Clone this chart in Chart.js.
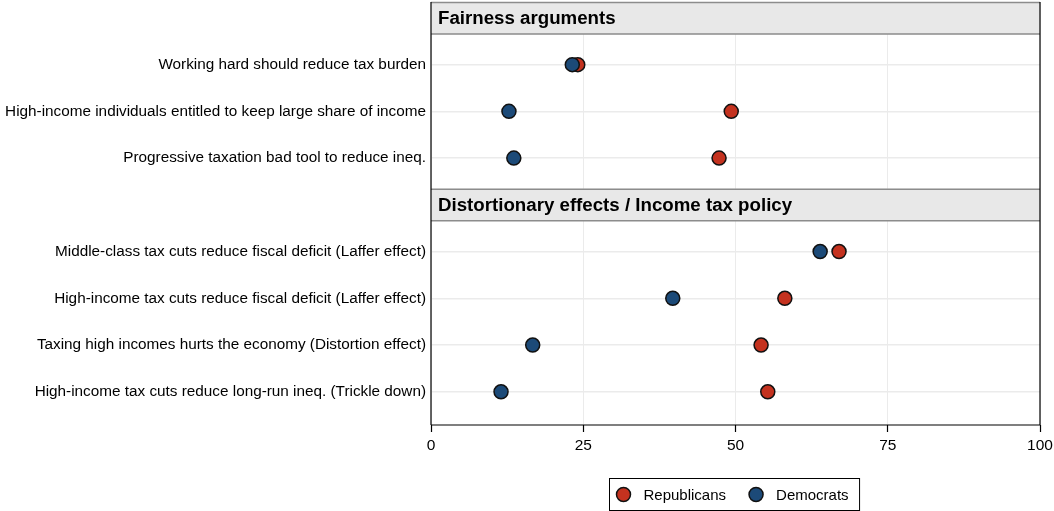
<!DOCTYPE html>
<html>
<head>
<meta charset="utf-8">
<script src="https://cdn.jsdelivr.net/npm/chart.js@4.4.0/dist/chart.umd.min.js"></script>
<style>
  html, body { margin: 0; padding: 0; background: #fff; }
  #wrap { width: 1054px; height: 511px; }
</style>
</head>
<body>
<div id="wrap"><canvas id="chart"></canvas></div>
<script>
// panel titles
const panelTitles = ['Fairness arguments', 'Distortionary effects / Income tax policy'];

// panel 1
const fairnessLabels = [
    'Working hard should reduce tax burden',
    'High-income individuals entitled to keep large share of income',
    'Progressive taxation bad tool to reduce ineq.'
];
const fairnessRep = [24.1, 49.3, 47.3];
const fairnessDem = [23.2, 12.8, 13.6];

// panel 2
const distortLabels = [
    'Middle-class tax cuts reduce fiscal deficit (Laffer effect)',
    'High-income tax cuts reduce fiscal deficit (Laffer effect)',
    'Taxing high incomes hurts the economy (Distortion effect)',
    'High-income tax cuts reduce long-run ineq. (Trickle down)'
];
const distortRep = [67.0, 58.1, 54.2, 55.3];
const distortDem = [63.9, 39.7, 16.7, 11.5];

const xTicks = [0, 25, 50, 75, 100];

const RED = '#c4321f';
const BLUE = '#1c4a78';
const FONT = '"Liberation Sans", Arial, sans-serif';

// rows: header slot, then the questions of each panel
const rowLabels = {};
const headerRows = [];
const repPoints = [];
const demPoints = [];
let row = 0;
[[fairnessLabels, fairnessRep, fairnessDem], [distortLabels, distortRep, distortDem]].forEach(([labels, rep, dem]) => {
    headerRows.push(row);
    row++;
    labels.forEach((l, i) => {
        rowLabels[row] = l;
        repPoints.push({ x: rep[i], y: row });
        demPoints.push({ x: dem[i], y: row });
        row++;
    });
});
const rowTicks = Object.keys(rowLabels).map(Number);

const panelPlugin = {
    id: 'panels',
    beforeDatasetsDraw(chart) {
        const { ctx, chartArea: a, scales: { y } } = chart;
        ctx.save();
        headerRows.forEach((r, i) => {
            const c = y.getPixelForValue(r);
            const top = Math.max(a.top, c - 16);
            const bot = c + 16;
            ctx.fillStyle = '#e8e8e8';
            ctx.fillRect(a.left, top, a.right - a.left, bot - top);
            ctx.strokeStyle = '#8c8c8c';
            ctx.lineWidth = 1.5;
            ctx.beginPath();
            ctx.moveTo(a.left, top + 0.5); ctx.lineTo(a.right, top + 0.5);
            ctx.moveTo(a.left, bot); ctx.lineTo(a.right, bot);
            ctx.stroke();
            ctx.fillStyle = '#000';
            ctx.font = 'bold 18.7px ' + FONT;
            ctx.textBaseline = 'middle';
            ctx.textAlign = 'left';
            ctx.fillText(panelTitles[i], a.left + 7, c + 1);
        });
        // frame
        ctx.strokeStyle = '#000';
        ctx.lineWidth = 1.2;
        ctx.beginPath();
        ctx.moveTo(a.left, a.top); ctx.lineTo(a.left, a.bottom);
        ctx.moveTo(a.right, a.top); ctx.lineTo(a.right, a.bottom);
        ctx.moveTo(a.left, a.bottom); ctx.lineTo(a.right, a.bottom);
        ctx.stroke();
        ctx.restore();
    },
    afterDraw(chart) {
        // legend box under the plot
        const { ctx, chartArea: a } = chart;
        const items = [chart.data.datasets[1], chart.data.datasets[0]];
        ctx.save();
        ctx.font = '15px ' + FONT;
        const r = 7, gap = 13, padL = 7, padR = 11, between = 23;
        const widths = items.map(d => ctx.measureText(d.label).width);
        const total = padL + padR + widths.reduce((s, w) => s + 2 * r + gap + w, 0) + between * (items.length - 1);
        const cx = (a.left + a.right) / 2 - 1.5;
        let x = Math.round(cx - total / 2) + 0.5;
        const top = 478.5, h = 32;
        ctx.strokeStyle = '#000';
        ctx.lineWidth = 1;
        ctx.strokeRect(x, top, total, h);
        let px = x + padL;
        const cy = top + h / 2;
        items.forEach((d, i) => {
            ctx.beginPath();
            ctx.arc(px + r, cy, r, 0, Math.PI * 2);
            ctx.fillStyle = d.backgroundColor;
            ctx.fill();
            ctx.lineWidth = 1.5;
            ctx.strokeStyle = '#111';
            ctx.stroke();
            ctx.fillStyle = '#000';
            ctx.textBaseline = 'middle';
            ctx.textAlign = 'left';
            ctx.fillText(d.label, px + 2 * r + gap, cy + 1);
            px += 2 * r + gap + widths[i] + between;
        });
        ctx.restore();
    }
};

new Chart(document.getElementById('chart'), {
    type: 'scatter',
    data: {
        datasets: [
            { label: 'Democrats', data: demPoints, backgroundColor: BLUE, borderColor: '#111', borderWidth: 1.5, pointRadius: 7, pointHoverRadius: 7 },
            { label: 'Republicans', data: repPoints, backgroundColor: RED, borderColor: '#111', borderWidth: 1.5, pointRadius: 7, pointHoverRadius: 7 }
        ]
    },
    options: {
        responsive: true,
        maintainAspectRatio: false,
        animation: false,
        layout: { autoPadding: false, padding: { top: 2, right: 14, bottom: 0, left: 0 } },
        plugins: { legend: { display: false }, tooltip: { enabled: false } },
        scales: {
            x: {
                type: 'linear',
                min: 0, max: 100,
                afterBuildTicks: s => { s.ticks = xTicks.map(v => ({ value: v })); },
                afterFit: s => { s.height = 511 - 425; s.paddingLeft = 0; s.paddingRight = 0; },
                grid: { color: '#ebebeb', lineWidth: 1, tickColor: '#000', tickLength: 7, tickWidth: 1.2 },
                border: { display: false },
                ticks: { color: '#000', font: { family: FONT, size: 15.5 }, padding: 4 }
            },
            y: {
                type: 'linear',
                reverse: true,
                min: -0.34, max: 8.71,
                afterBuildTicks: s => { s.ticks = rowTicks.map(v => ({ value: v })); },
                afterFit: s => { s.width = 431; s.paddingTop = 0; s.paddingBottom = 0; },
                grid: { color: '#ebebeb', lineWidth: 1.5, drawTicks: false },
                border: { display: false },
                ticks: {
                    color: '#000', font: { family: FONT, size: 15.3 }, padding: 5,
                    callback: v => rowLabels[v] || ''
                }
            }
        }
    },
    plugins: [panelPlugin]
});
</script>
</body>
</html>
